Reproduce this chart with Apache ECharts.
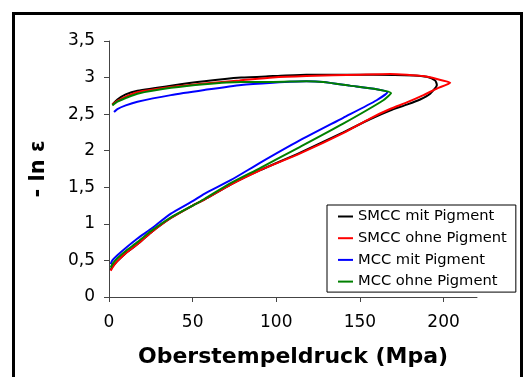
<!DOCTYPE html>
<html>
<head>
<meta charset="utf-8">
<script src="https://cdn.jsdelivr.net/npm/echarts@6/dist/echarts.min.js"></script>
<style>
  html, body { margin: 0; padding: 0; background: #fff; }
  #main { width: 523px; height: 377px; }
</style>
</head>
<body>
<div id="main"></div>
<script>
// series names (legend order)
const names = ["SMCC mit Pigment", "SMCC ohne Pigment", "MCC mit Pigment", "MCC ohne Pigment"];
const colors = ["#000000", "#ff0000", "#0000ff", "#008000"];

// [pressure, -ln eps] : loading branch then unloading branch
const smccMit = [
  [1, 0.37], [2, 0.41], [5, 0.49], [10, 0.6], [17, 0.72], [25, 0.88], [37, 1.08], [50, 1.25],
  [57, 1.33], [73, 1.54], [90, 1.73], [114, 1.97], [140, 2.25], [156, 2.43], [168, 2.55],
  [178, 2.63], [186, 2.7], [192, 2.78], [196, 2.9], [195, 2.96], [190, 3.01], [182, 3.03],
  [158, 3.04], [118, 3.04], [98, 3.02], [79, 3.0], [57, 2.95], [37, 2.89], [17, 2.82],
  [10, 2.77], [5, 2.7], [2, 2.63]
];
const smccOhne = [
  [1, 0.36], [2, 0.4], [5, 0.49], [10, 0.6], [17, 0.72], [25, 0.88], [37, 1.08], [50, 1.25],
  [57, 1.33], [73, 1.54], [90, 1.73], [114, 1.96], [140, 2.24], [156, 2.44], [168, 2.57],
  [178, 2.66], [188, 2.76], [196, 2.85], [204, 2.93], [196, 2.98], [188, 3.02], [178, 3.04],
  [168, 3.05], [150, 3.04], [118, 3.02], [98, 3.0], [78, 2.96], [57, 2.92], [37, 2.87],
  [17, 2.8], [10, 2.74], [5, 2.68], [2, 2.63]
];
const mccMit = [
  [1, 0.45], [2, 0.5], [5, 0.57], [10, 0.67], [17, 0.8], [25, 0.93], [37, 1.14], [50, 1.31],
  [57, 1.41], [73, 1.6], [90, 1.83], [114, 2.14], [140, 2.45], [160, 2.69], [166.4, 2.8],
  [160, 2.84], [144, 2.89], [128, 2.94], [118, 2.95], [98, 2.93], [79, 2.9], [57, 2.83],
  [37, 2.76], [17, 2.67], [10, 2.62], [5, 2.57], [3, 2.53]
];
const mccOhne = [
  [1, 0.4], [2, 0.45], [5, 0.53], [10, 0.63], [17, 0.75], [25, 0.9], [37, 1.09], [50, 1.25],
  [57, 1.34], [73, 1.56], [90, 1.76], [114, 2.05], [140, 2.37], [164, 2.69], [168.6, 2.79],
  [160, 2.84], [144, 2.89], [128, 2.94], [118, 2.95], [98, 2.94], [79, 2.94], [57, 2.91],
  [37, 2.86], [17, 2.78], [10, 2.72], [5, 2.67], [2, 2.62]
];
const allData = [smccMit, smccOhne, mccMit, mccOhne];

const xTicks = [0, 50, 100, 150, 200];

const myChart = echarts.init(document.getElementById("main"));

const option = {
  backgroundColor: "#fff",
  animation: false,
  textStyle: { fontFamily: "DejaVu Sans" },
  graphic: [
    {
      type: "rect",
      shape: { x: 13.5, y: 13.5, width: 508, height: 400 },
      style: { fill: "none", stroke: "#000", lineWidth: 3 },
      z: 100
    }
  ],
  grid: { left: 109, top: 41, right: 46, bottom: 80 },
  legend: {
    data: names,
    orient: "vertical",
    left: 327,
    top: 205,
    backgroundColor: "#fff",
    borderColor: "#000",
    borderWidth: 1,
    borderRadius: 0,
    padding: [3, 9, 2, 11],
    itemGap: 4.7,
    itemWidth: 15,
    itemHeight: 2,
    icon: "rect",
    textStyle: { fontSize: 14.7, color: "#000", lineHeight: 17 }
  },
  xAxis: {
    type: "value",
    min: 0,
    max: 220,
    interval: 50,
    name: "Oberstempeldruck (Mpa)",
    nameLocation: "middle",
    nameGap: 49,
    nameTextStyle: { fontSize: 22, fontWeight: "bold", color: "#000" },
    axisLine: { lineStyle: { color: "#444", width: 1 } },
    axisTick: { length: 5, lineStyle: { color: "#444" }, customValues: xTicks },
    axisLabel: { fontSize: 17, color: "#000", margin: 17, customValues: xTicks },
    splitLine: { show: false }
  },
  yAxis: {
    type: "value",
    min: 0,
    max: 3.5,
    interval: 0.5,
    name: "- ln ε",
    nameLocation: "middle",
    nameGap: 60,
    nameTextStyle: { fontSize: 21, fontWeight: "bold", color: "#000" },
    axisLine: { show: true, lineStyle: { color: "#444", width: 1 } },
    axisTick: { show: true, length: 5, lineStyle: { color: "#444" } },
    axisLabel: {
      fontSize: 17,
      color: "#000",
      margin: 14,
      formatter: (v) => String(v).replace(".", ",")
    },
    splitLine: { show: false }
  },
  series: names.map((n, i) => ({
    name: n,
    type: "line",
    data: allData[i],
    showSymbol: false,
    smooth: 0.2,
    color: colors[i],
    lineStyle: { width: 2, color: colors[i] }
  }))
};

myChart.setOption(option);
</script>
</body>
</html>
